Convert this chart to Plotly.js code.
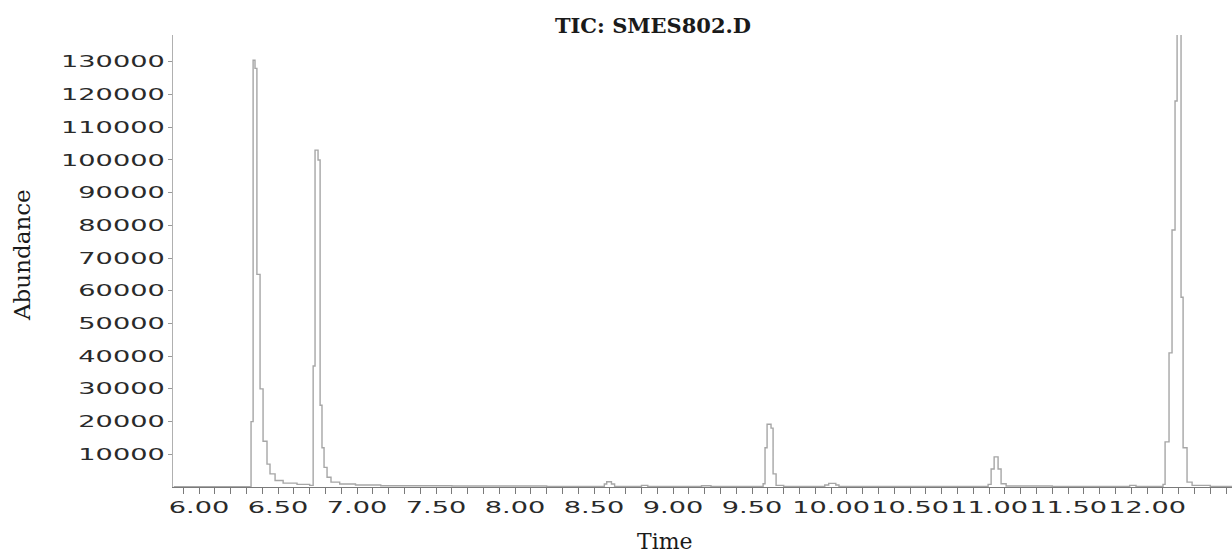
<!DOCTYPE html>
<html>
<head>
<meta charset="utf-8">
<script src="https://cdn.plot.ly/plotly-3.0.1.min.js"></script>
<style>
  html, body { margin: 0; padding: 0; background: #fff; }
  #chart { width: 1232px; height: 553px; }
</style>
</head>
<body>
<div id="chart"></div>
<script>
// Retention time (min) and abundance
const time = [5.84, 6.329, 6.342, 6.354, 6.366, 6.386, 6.405, 6.430, 6.449, 6.481, 6.532, 6.62, 6.70,
  6.722, 6.734, 6.753, 6.766, 6.778, 6.791, 6.810, 6.835, 6.89, 6.99, 7.15, 7.6, 8.2,
  8.565, 8.58, 8.61, 8.63, 8.80, 8.84, 9.18, 9.24,
  9.570, 9.582, 9.595, 9.620, 9.633, 9.652, 9.70, 9.96, 9.985, 10.03, 10.05,
  10.994, 11.013, 11.032, 11.057, 11.076, 11.108, 11.40, 11.89, 11.93,
  12.101, 12.114, 12.139, 12.158, 12.177, 12.190, 12.215, 12.228, 12.253, 12.285, 12.40, 12.54];
const abundance = [100, 20000, 130500, 128000, 65000, 30000, 14000, 7000, 4000, 2000, 1200, 800, 500,
  37000, 103000, 100000, 25000, 12000, 6000, 3000, 1500, 900, 600, 400, 300, 200,
  900, 1600, 900, 200, 500, 200, 400, 200,
  1000, 12000, 19200, 18000, 4000, 500, 200, 600, 1100, 600, 200,
  800, 5500, 9200, 5500, 1000, 300, 200, 500, 200,
  800, 13800, 41000, 78600, 118000, 175000, 58000, 12000, 1500, 500, 200, 200];

const xTickVals = [6.0, 6.5, 7.0, 7.5, 8.0, 8.5, 9.0, 9.5, 10.0, 10.5, 11.0, 11.5, 12.0];
const xTickText = ["6.00", "6.50", "7.00", "7.50", "8.00", "8.50", "9.00", "9.50", "10.00", "10.50", "11.00", "11.50", "12.00"];
const yTickVals = [10000, 20000, 30000, 40000, 50000, 60000, 70000, 80000, 90000, 100000, 110000, 120000, 130000];
const yTickText = ["10000", "20000", "30000", "40000", "50000", "60000", "70000", "80000", "90000", "100000", "110000", "120000", "130000"];

const titleText = "TIC: SMES802.D";
const xTitle = "Time";
const yTitle = "Abundance";

const L = 173, R = 0, T = 35, B = 66, W = 1232, H = 553;
const pw = W - L - R, ph = H - T - B;

const trace = {
  x: time, y: abundance, type: 'scatter', mode: 'lines',
  line: { color: '#a6a6a6', width: 1.4, shape: 'hv' },
  hoverinfo: 'skip'
};

const tickFont = { family: 'DejaVu Sans', size: 16, color: '#2a2a2a' };
const serif = 'DejaVu Serif';

const layout = {
  width: W, height: H,
  margin: { l: L, r: R, t: T, b: B, pad: 0 },
  paper_bgcolor: '#fff', plot_bgcolor: '#fff',
  showlegend: false,
  title: {
    text: '<b>' + titleText + '</b>',
    font: { family: serif, size: 21, color: '#1a1a1a' },
    xref: 'container', yref: 'container',
    x: 653 / W, y: 1 - 26 / H, xanchor: 'center', yanchor: 'middle'
  },
  xaxis: {
    range: [5.835, 5.835 + pw / 158],
    showgrid: false, zeroline: false,
    showline: true, linecolor: '#7a7a7a', linewidth: 1.2,
    ticks: 'outside', ticklen: 6, tickcolor: '#7a7a7a', tickwidth: 1,
    tickmode: 'array', tickvals: xTickVals, ticktext: xTickText,
    tickfont: tickFont,
    minor: { tickmode: 'linear', tick0: 6.0, dtick: 0.1, ticks: 'outside', ticklen: 6, tickcolor: '#7a7a7a', tickwidth: 1, showgrid: false },
    fixedrange: true
  },
  yaxis: {
    range: [0, 138200],
    showgrid: false, zeroline: false,
    showline: true, linecolor: '#b0b0b0', linewidth: 1,
    ticks: 'outside', ticklen: 4, tickcolor: '#999', tickwidth: 1,
    tickmode: 'array', tickvals: yTickVals, ticktext: yTickText,
    tickfont: tickFont,
    fixedrange: true
  },
  annotations: [
    { text: xTitle, xref: 'paper', yref: 'paper', x: (665 - L) / pw, y: -(541 - (T + ph)) / ph,
      xanchor: 'center', yanchor: 'middle', showarrow: false,
      font: { family: serif, size: 22, color: '#1a1a1a' } },
    { text: yTitle, xref: 'paper', yref: 'paper', x: (22 - L) / pw, y: ((T + ph) - 255) / ph,
      xanchor: 'center', yanchor: 'middle', showarrow: false, textangle: -90,
      font: { family: serif, size: 23, color: '#1a1a1a' } }
  ]
};

function stretch(sel, k) {
  document.querySelectorAll(sel).forEach(function (t) {
    const ax = parseFloat(t.getAttribute('x')) || 0;
    const tr = t.getAttribute('transform') || '';
    t.setAttribute('transform', tr + ' translate(' + ax + ',0) scale(' + k + ',1) translate(' + (-ax) + ',0)');
  });
}

Plotly.newPlot('chart', [trace], layout, { displayModeBar: false, staticPlot: true }).then(function () {
  stretch('#chart .xtick text', 1.7);
  stretch('#chart .ytick text', 1.7);
});
</script>
</body>
</html>
